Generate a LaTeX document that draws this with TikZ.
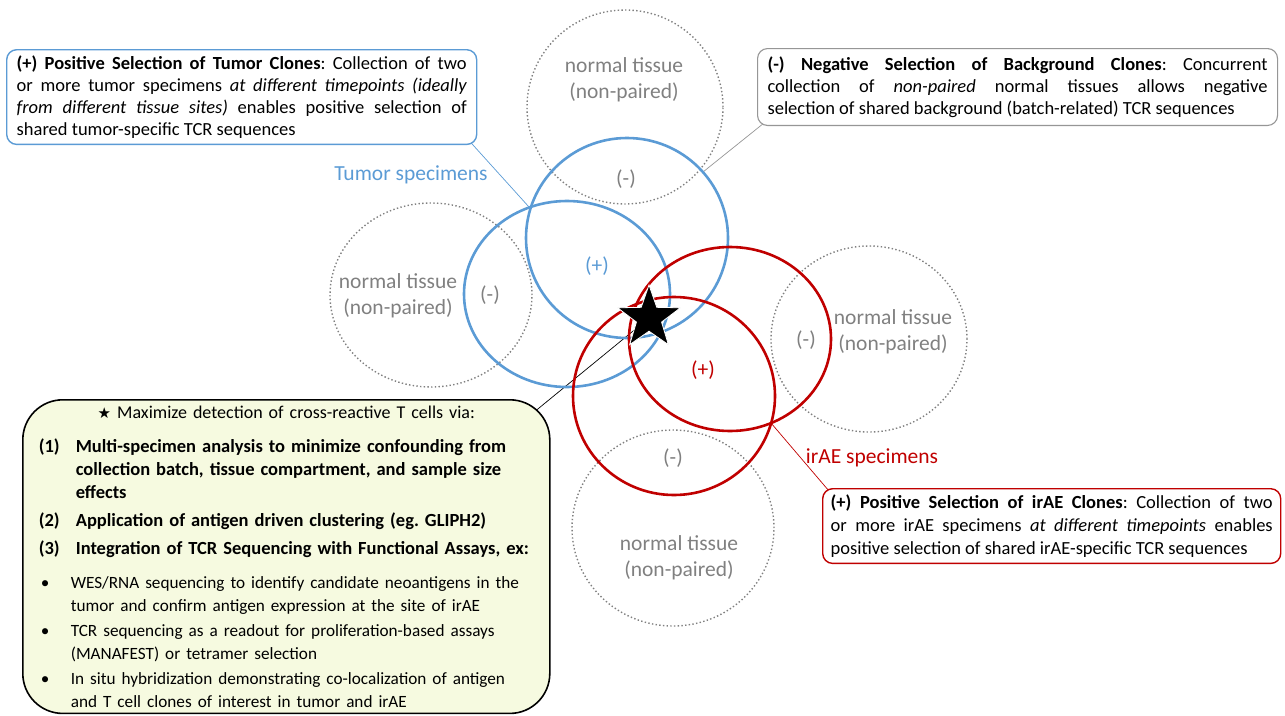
\documentclass[tikz,border=0pt]{standalone}
\usepackage{fontspec}
\setmainfont{Carlito}
\newfontfamily\symfont{DejaVu Sans}
\usetikzlibrary{shapes.geometric, positioning, backgrounds}
\definecolor{tumorblue}{RGB}{91, 155, 213}
\definecolor{iraered}{RGB}{192, 0, 0}
\definecolor{tissuegray}{RGB}{128, 128, 128}
\definecolor{bggray}{RGB}{150, 150, 150}
\definecolor{planfill}{RGB}{246, 250, 224}
\frenchspacing

\begin{document}
\begin{tikzpicture}[
  x=1pt, y=-1pt,
  every node/.style={font=\fontsize{18.5}{22}\selectfont},
  tissue/.style={
    ellipse, draw=tissuegray, line width=1.4pt,
    dash pattern=on 1.4pt off 2.3pt, inner sep=0pt
  },
  specimen/.style={ellipse, draw=#1, line width=2.6pt, inner sep=0pt},
  sign/.style={text=#1, font=\fontsize{21.5}{26}\selectfont},
  tissuetext/.style={text=tissuegray, align=center, font=\fontsize{21.5}{26}\selectfont},
  callout/.style={
    rectangle, rounded corners=10pt,
    draw=#1, fill=white, line width=1.4pt,
    align=justify, anchor=north west,
    inner xsep=10pt, inner ysep=6pt
  },
  link/.style={line width=0.7pt, #1}
]
\useasboundingbox (0,0) rectangle (1285,715);

% ── Normal tissue (dotted) ───────────────────────────────────────────────────
\node[tissue, minimum width=196pt, minimum height=194pt] (normtop)   at (625,107) {};
\node[tissue, minimum width=202pt, minimum height=184pt] (normleft)  at (431,295) {};
\node[tissue, minimum width=196pt, minimum height=186pt] (normright) at (869,339) {};
\node[tissue, minimum width=202pt, minimum height=196pt] (normbot)   at (673,528) {};

% ── Specimens ────────────────────────────────────────────────────────────────
\node[specimen=tumorblue, minimum width=202pt, minimum height=200pt] (tumora) at (627,238) {};
\node[specimen=tumorblue, minimum width=206pt, minimum height=186pt] (tumorb) at (567,294) {};
\node[specimen=iraered,   minimum width=202pt, minimum height=184pt] (iraea)  at (730,339) {};
\node[specimen=iraered,   minimum width=202pt, minimum height=198pt] (iraeb)  at (674,396) {};

% labels inside circles
\node[tissuetext] (toptext)   at (624,80)  {normal tissue\\(non-paired)};
\node[tissuetext] (lefttext)  at (398,296) {normal tissue\\(non-paired)};
\node[tissuetext] (righttext) at (893,332) {normal tissue\\(non-paired)};
\node[tissuetext] (bottext)   at (679,558) {normal tissue\\(non-paired)};

\node[sign=tissuegray] (topminus)   at (626,179) {(-)};
\node[sign=tissuegray] (leftminus)  at (490,295) {(-)};
\node[sign=tissuegray] (rightminus) at (806,340) {(-)};
\node[sign=tissuegray] (botminus)   at (673,458) {(-)};
\node[sign=tumorblue]  (tumorplus)  at (597,266) {(+)};
\node[sign=iraered]    (iraeplus)   at (703,370) {(+)};

\node[sign=tumorblue] (tumorlabel) at (411,175) {Tumor specimens};
\node[sign=iraered]   (iraelabel)  at (872,458) {irAE specimens};

% meeting points of the callout lines
\coordinate (tumormeet) at (529,207);
\coordinate (bgmeet)    at (703,172);
\coordinate (iraemeet)  at (771,423);

% ── Callouts ─────────────────────────────────────────────────────────────────
\node[callout=tumorblue, text width=450pt] (tumorbox) at (6,49)
  {\textbf{(+) Positive Selection of Tumor Clones}: Collection of two\linebreak
   or more tumor specimens \textit{at different timepoints (ideally\linebreak
   from different tissue sites)} enables positive selection of\linebreak
   shared tumor-specific TCR sequences};

\node[callout=bggray, line width=1.1pt, inner ysep=8pt, text width=500pt] (bgbox) at (757,48)
  {\textbf{(-) Negative Selection of Background Clones}: Concurrent\linebreak
   collection of \textit{non-paired} normal tissues allows negative\linebreak
   selection of shared background (batch-related) TCR sequences};

\node[callout=iraered, inner xsep=8pt, text width=442pt,
      font=\fontsize{18.5}{23}\selectfont] (iraebox) at (822,488)
  {\textbf{(+) Positive Selection of irAE Clones}: Collection of two\linebreak
   or more irAE specimens \textit{at different timepoints} enables\linebreak
   positive selection of shared irAE-specific TCR sequences};

\node[rectangle, rounded corners=40pt, draw=black, fill=planfill, line width=1.6pt,
      anchor=north west, text width=495pt, align=left,
      inner xsep=16pt, inner ysep=6pt,
      font=\fontsize{18}{23}\selectfont]
  (planbox) at (22,399) {%
    \parindent=0pt
    {\centering{\symfont\fontsize{15}{15}\selectfont ★}\ Maximize detection of cross-reactive T cells via:\par}
    \vspace{11pt}
    {\fontsize{18.5}{23}\bfseries\selectfont\hangindent=37pt\hangafter=1
     \makebox[37pt][l]{(1)}Multi-specimen analysis to minimize confounding from\newline
     collection batch, tissue compartment, and sample size\newline
     effects\par}
    \vspace{5pt}
    {\fontsize{18.5}{23}\bfseries\selectfont
     \makebox[37pt][l]{(2)}Application of antigen driven clustering (eg.\ GLIPH2)\par}
    \vspace{5pt}
    {\fontsize{18.5}{23}\bfseries\selectfont
     \makebox[37pt][l]{(3)}Integration of TCR Sequencing with Functional Assays, ex:\par}
    \vspace{11pt}
    {\fontsize{17.2}{23}\selectfont
     \hangindent=32pt\hangafter=1
     \makebox[32pt][l]{\hspace{2pt}\textbullet}WES/RNA sequencing to identify candidate neoantigens in the\newline
     tumor and confirm antigen expression at the site of irAE\par
     \vspace{2pt}
     \hangindent=32pt\hangafter=1
     \makebox[32pt][l]{\hspace{2pt}\textbullet}TCR sequencing as a readout for proliferation-based assays\newline
     (MANAFEST) or tetramer selection\par
     \vspace{2pt}
     \hangindent=32pt\hangafter=1
     \makebox[32pt][l]{\hspace{2pt}\textbullet}In situ hybridization demonstrating co-localization of antigen\newline
     and T cell clones of interest in tumor and irAE\par}
  };

% ── Star ─────────────────────────────────────────────────────────────────────
\node[star, star points=5, star point ratio=2.5, minimum size=66pt, inner sep=0pt,
      fill=black, draw=white, line width=0.8pt] (crossstar) at (649,318) {};

% callout lines, kept behind the boxes
\begin{scope}[on background layer]
  \draw[link=tumorblue] ([shift={(-7,-3)}]tumorbox.south east) -- (tumormeet);
  \draw[link=bggray]    ([shift={(7,-3)}]bgbox.south west)     -- (bgmeet);
  \draw[link=iraered]   ([shift={(7,3)}]iraebox.north west)    -- (iraemeet);
  \draw[link=black]     ([shift={(-25,20)}]planbox.north east) -- (crossstar.center);
\end{scope}

\end{tikzpicture}
\end{document}
